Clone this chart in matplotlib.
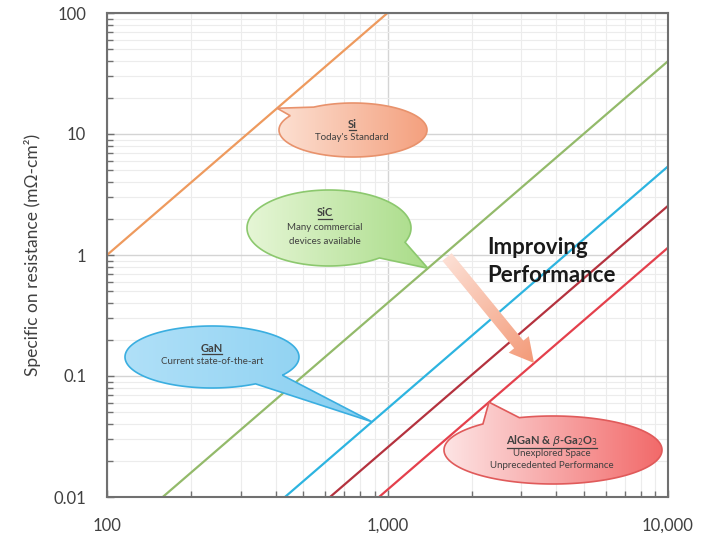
import numpy as np
import matplotlib.pyplot as plt
from matplotlib.patches import Polygon, FancyArrow
from matplotlib.ticker import FixedLocator, FixedFormatter, LogLocator, NullFormatter
from matplotlib.colors import to_rgba

plt.rcParams['font.family'] = ['Lato', 'DejaVu Sans']

W, H = 706, 533

# breakdown voltage (V) and specific on-resistance (mOhm-cm2) at the ends of each limit line
si_v = [100, 1000]
si_r = [1, 100]
sic_v = [158, 10000]
sic_r = [0.01, 40]
gan_v = [431, 10000]
gan_r = [0.01, 5.4]
algan_v = [624, 10000]
algan_r = [0.01, 2.55]
ga2o3_v = [933, 10000]
ga2o3_r = [0.01, 1.15]

x_ticks = [100, 1000, 10000]
x_tick_labels = ["100", "1,000", "10,000"]
y_ticks = [0.01, 0.1, 1, 10, 100]
y_tick_labels = ["0.01", "0.1", "1", "10", "100"]

# voltages where the callout tails touch their lines
si_tip_v = 404
sic_tip_v = 1393
gan_tip_v = 881
ga2o3_tip_v = 2300

TXT = "#404040"


def on_line(v, line_v, line_r):
    # straight line in log-log space
    return 10 ** np.interp(np.log10(v), np.log10(line_v), np.log10(line_r))


def to_px(ax, x, y):
    px, py = ax.transData.transform((x, y))
    return px, H - py


def gradient_fill(ov, patch, c0, c1, angle=0.0):
    verts = patch.get_path().vertices
    x0, y0 = verts.min(axis=0)
    x1, y1 = verts.max(axis=0)
    gx, gy = np.meshgrid(np.linspace(0, 1, 200), np.linspace(0, 1, 200))
    t = gx * np.cos(angle) + gy * np.sin(angle)
    t = (t - t.min()) / (t.max() - t.min())
    a = np.array(to_rgba(c0))
    b = np.array(to_rgba(c1))
    img = a + (b - a) * t[..., None]
    im = ov.imshow(img, extent=(x0, x1, y1, y0), origin='upper', aspect='auto',
                   zorder=patch.get_zorder() - 0.1, interpolation='bilinear')
    im.set_clip_path(patch)


def bubble(ov, cx, cy, a, b, tip, t1, t2, c0, c1, edge):
    # ellipse outline with a pointed tail between angles t1 and t2 (degrees)
    t = np.radians(np.linspace(t2, t1 + 360, 300))
    pts = np.column_stack([cx + a * np.cos(t), cy + b * np.sin(t)])
    pts = np.vstack([pts, tip])
    poly = Polygon(pts, closed=True, facecolor='none', edgecolor=edge, lw=1.2, zorder=5)
    ov.add_patch(poly)
    gradient_fill(ov, poly, c0, c1)


def underline(fig, ov, txt, color):
    r = fig.canvas.get_renderer()
    bb = txt.get_window_extent(renderer=r)
    y = H - bb.y0 + 0.5
    ov.plot([bb.x0 + 1, bb.x1 - 1], [y, y], color=color, lw=0.9, zorder=7)


fig = plt.figure(figsize=(W / 100, H / 100), dpi=100)
ax = fig.add_axes([107 / W, 36 / H, 561 / W, 484 / H])
ax.set_xscale('log')
ax.set_yscale('log')
ax.set_xlim(100, 10000)
ax.set_ylim(0.01, 100)

ax.plot(si_v, si_r, color='#EE9A5E', lw=1.6)
ax.plot(sic_v, sic_r, color='#93BA6A', lw=1.6)
ax.plot(gan_v, gan_r, color='#2DB4E0', lw=1.6)
ax.plot(algan_v, algan_r, color='#B4323E', lw=1.6)
ax.plot(ga2o3_v, ga2o3_r, color='#E4404C', lw=1.6)

ax.xaxis.set_major_locator(FixedLocator(x_ticks))
ax.xaxis.set_major_formatter(FixedFormatter(x_tick_labels))
ax.yaxis.set_major_locator(FixedLocator(y_ticks))
ax.yaxis.set_major_formatter(FixedFormatter(y_tick_labels))
for axis in (ax.xaxis, ax.yaxis):
    axis.set_minor_locator(LogLocator(base=10, subs=np.arange(2, 10)))
    axis.set_minor_formatter(NullFormatter())

ax.tick_params(which='both', direction='in', color='#707070', labelcolor=TXT, labelsize=12)
ax.tick_params(which='major', length=5, width=1)
ax.tick_params(which='minor', length=4, width=1)
ax.tick_params(axis='x', pad=15)
ax.tick_params(axis='y', pad=15)
ax.grid(which='major', color='#D4D4D4', lw=1)
ax.grid(which='minor', color='#ECECEC', lw=0.8)
for s in ax.spines.values():
    s.set_color('#707070')
    s.set_linewidth(1.5)
ax.set_ylabel("Specific on resistance (mΩ-cm²)", color=TXT, fontsize=12.5, labelpad=9)

# overlay in figure pixels for callouts and the arrow
ov = fig.add_axes([0, 0, 1, 1], zorder=3)
ov.set_xlim(0, W)
ov.set_ylim(H, 0)
ov.axis('off')

si_tip = to_px(ax, si_tip_v, on_line(si_tip_v, si_v, si_r))
sic_tip = to_px(ax, sic_tip_v, on_line(sic_tip_v, sic_v, sic_r))
gan_tip = to_px(ax, gan_tip_v, on_line(gan_tip_v, gan_v, gan_r))
ga2o3_tip = to_px(ax, ga2o3_tip_v, on_line(ga2o3_tip_v, ga2o3_v, ga2o3_r))

bubble(ov, 353, 130, 74, 27, si_tip, 212, 238, '#FCE0D2', '#F4A07E', '#E8926C')
t = ov.text(352, 124, "Si", ha='center', va='center', fontsize=8, fontweight='bold', color=TXT, zorder=6)
underline(fig, ov, t, TXT)
ov.text(352, 138, "Today's Standard", ha='center', va='center', fontsize=7, color=TXT, zorder=6)

bubble(ov, 329, 228, 82, 38, sic_tip, 22, 52, '#E6F6D6', '#A9DC88', '#8CC86E')
t = ov.text(325, 213, "SiC", ha='center', va='center', fontsize=8, fontweight='bold', color=TXT, zorder=6)
underline(fig, ov, t, TXT)
ov.text(325, 228, "Many commercial", ha='center', va='center', fontsize=7, color=TXT, zorder=6)
ov.text(325, 241, "devices available", ha='center', va='center', fontsize=7, color=TXT, zorder=6)

bubble(ov, 212, 357, 87, 31, gan_tip, 36, 60, '#B0E0F8', '#86CEF0', '#3AAEE0')
t = ov.text(212, 348, "GaN", ha='center', va='center', fontsize=8, fontweight='bold', color=TXT, zorder=6)
underline(fig, ov, t, TXT)
ov.text(212, 362, "Current state-of-the-art", ha='center', va='center', fontsize=7, color=TXT, zorder=6)

bubble(ov, 553, 450, 109, 34, ga2o3_tip, 230, 252, '#FDE4E4', '#F26A6A', '#E05A5A')
t = ov.text(552, 440, "AlGaN & $\\mathit{\\beta}$-Ga$_2$O$_3$", ha='center', va='center', fontsize=8,
            fontweight='bold', color=TXT, zorder=6)
underline(fig, ov, t, TXT)
ov.text(552, 453, "Unexplored Space", ha='center', va='center', fontsize=7, color=TXT, zorder=6)
ov.text(552, 466, "Unprecedented Performance", ha='center', va='center', fontsize=7, color=TXT, zorder=6)

# improving performance arrow
ax0 = (447, 257)
ax1 = (534, 363)
arrow = FancyArrow(ax0[0], ax0[1], ax1[0] - ax0[0], ax1[1] - ax0[1], width=12, head_width=26,
                   head_length=24, length_includes_head=True, facecolor='none', edgecolor='none', zorder=5)
ov.add_patch(arrow)
gradient_fill(ov, arrow, '#FDE2D8', '#F39A78', angle=np.arctan2(ax1[1] - ax0[1], ax1[0] - ax0[0]))

ov.text(487, 247, "Improving", ha='left', va='center', fontsize=16, fontweight='bold', color='#1A1A1A', zorder=6)
ov.text(487, 275, "Performance", ha='left', va='center', fontsize=16, fontweight='bold', color='#1A1A1A', zorder=6)

ov.set_xlim(0, W)
ov.set_ylim(H, 0)

fig.savefig("out.png", dpi=100)
